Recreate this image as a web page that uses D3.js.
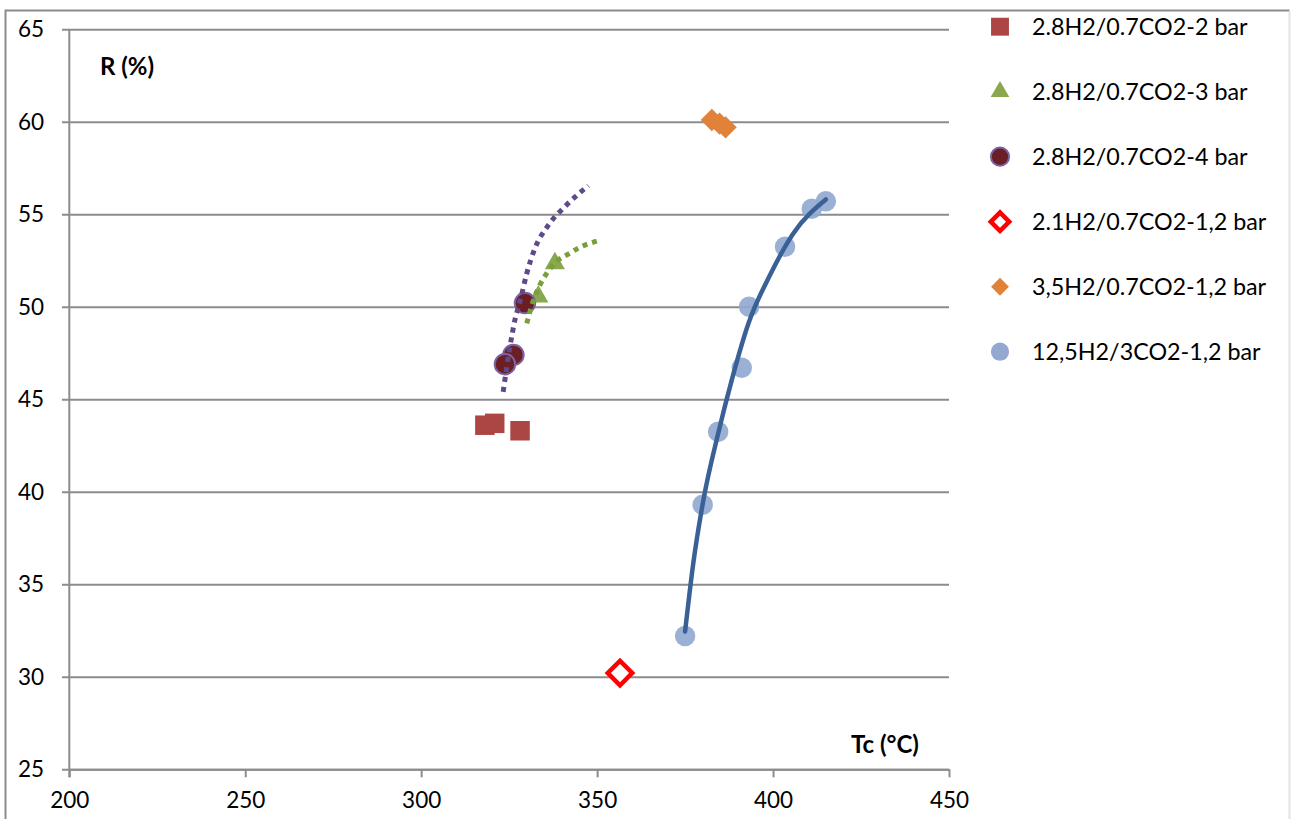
<!DOCTYPE html>
<html>
<head>
<meta charset="utf-8">
<script src="https://cdn.jsdelivr.net/npm/d3@7"></script>
<style>
  body { margin: 0; background: #fff; }
  text { font-family: Lato, "Open Sans", sans-serif; }
</style>
</head>
<body>
<div id="chart"></div>
<script>
// values (Tc in °C, R in %)
const xTicks = [200, 250, 300, 350, 400, 450];
const yTicks = [25, 30, 35, 40, 45, 50, 55, 60, 65];

const bar2 = [[318.1, 43.6], [320.9, 43.7], [328.1, 43.3]];
const bar3 = [[338.0, 52.35], [333.3, 50.55]];
const bar4 = [[329.5, 50.2], [326.2, 47.4], [323.8, 46.9]];
const h21 = [[356.5, 30.2]];
const h35 = [[382.6, 60.1], [384.8, 59.9], [386.5, 59.7]];
const h125 = [[375.0, 32.2], [380.0, 39.3], [384.4, 43.25], [391.1, 46.7],
              [393.2, 50.0], [403.4, 53.25], [411.0, 55.3], [415.0, 55.7]];

// trendlines
const trend3 = [[330.0, 49.1], [331.8, 50.3], [333.8, 51.2], [336.0, 51.9],
                [338.5, 52.45], [341.8, 52.85], [345.5, 53.25], [350.0, 53.55]];
const trend4 = [[323.3, 45.4], [325.2, 47.8], [326.65, 49.3], [328.1, 50.3],
                [330.0, 51.8], [332.3, 53.15], [336.1, 54.4], [341.3, 55.5], [347.5, 56.55]];
const trend125 = [[375.0, 32.45], [377.3, 36.1], [380.2, 39.55], [384.4, 43.15],
                  [388.2, 46.0], [393.0, 49.1], [399.1, 51.7], [405.7, 53.95], [415.0, 55.8]];

const legendLabels = ['2.8H2/0.7CO2-2 bar', '2.8H2/0.7CO2-3 bar', '2.8H2/0.7CO2-4 bar',
                      '2.1H2/0.7CO2-1,2 bar', '3,5H2/0.7CO2-1,2 bar', '12,5H2/3CO2-1,2 bar'];

const width = 1291, height = 819;
const mLeft = 69.3, mRight = 949, mTop = 29.3, mBottom = 769.3;

const svg = d3.select('#chart')
    .append('svg')
        .attr('width', width)
        .attr('height', height);

// chart frame
svg.append('path')
    .attr('d', `M5.5,${height} V10.5 H1289.5`)
    .attr('fill', 'none')
    .attr('stroke', '#8c8c8c')
    .attr('stroke-width', 2);
svg.append('line')
    .attr('x1', 1289.5).attr('x2', 1289.5).attr('y1', 11.5).attr('y2', height)
    .attr('stroke', '#e2e2e2').attr('stroke-width', 2);

const x = d3.scaleLinear().domain([200, 450]).range([mLeft, mRight]);
const y = d3.scaleLinear().domain([25, 65]).range([mBottom, mTop]);

// horizontal gridlines + y labels
const yAxis = svg.append('g')
    .attr('transform', `translate(62, 0)`)
    .call(d3.axisLeft(y).tickValues(yTicks).tickSize(-(mRight - 62)).tickPadding(18));
yAxis.select('.domain').remove();
yAxis.selectAll('line').attr('stroke', '#8c8c8c').attr('stroke-width', 2);
yAxis.selectAll('text').attr('font-size', 22.5).attr('fill', '#000');

// x axis
const xAxis = svg.append('g')
    .attr('transform', `translate(0, ${mBottom})`)
    .call(d3.axisBottom(x).tickValues(xTicks).tickSize(8).tickSizeOuter(0).tickPadding(15));
xAxis.select('.domain').attr('stroke', '#8c8c8c').attr('stroke-width', 2);
xAxis.selectAll('line').attr('stroke', '#8c8c8c').attr('stroke-width', 2);
xAxis.selectAll('text').attr('font-size', 22.5).attr('fill', '#000');

// y axis line
svg.append('line')
    .attr('x1', mLeft).attr('x2', mLeft).attr('y1', mTop).attr('y2', mBottom + 8)
    .attr('stroke', '#8c8c8c').attr('stroke-width', 2);

// axis titles
svg.append('text')
    .attr('x', 100).attr('y', 75)
    .attr('font-size', 24).attr('font-weight', 'bold')
    .text('R (%)');
svg.append('text')
    .attr('x', 851).attr('y', 753)
    .attr('font-size', 24).attr('font-weight', 'bold')
    .text('Tc (°C)');

const line = d3.line()
    .x(d => x(d[0]))
    .y(d => y(d[1]))
    .curve(d3.curveMonotoneX);

const sq = d3.symbol(d3.symbolSquare, 380)();
const tri = d3.symbol(d3.symbolTriangle, 175)();
const circ = d3.symbol(d3.symbolCircle, 330)();
const dia = d3.symbol(d3.symbolSquare, 250)();
const diaHollow = d3.symbol(d3.symbolSquare, 300)();

const series = [
    { data: bar2, path: sq, rot: 0, fill: '#ab4644', stroke: 'none', sw: 0 },
    { data: bar3, path: tri, rot: 0, fill: '#8aa84e', stroke: 'none', sw: 0 },
    { data: bar4, path: circ, rot: 0, fill: '#6b1f25', stroke: '#7d62a3', sw: 2 },
    { data: h21, path: diaHollow, rot: 45, fill: '#fff', stroke: '#ff0000', sw: 4.5 },
    { data: h35, path: dia, rot: 45, fill: '#e0823a', stroke: 'none', sw: 0 },
    { data: h125, path: circ, rot: 0, fill: '#93a9d1', stroke: 'none', sw: 0 }
];

const drawMarks = (s) => {
    svg.append('g').selectAll('path')
        .data(s.data)
        .enter()
        .append('path')
            .attr('d', s.path)
            .attr('transform', d => `translate(${x(d[0])},${y(d[1])}) rotate(${s.rot})`)
            .attr('fill', s.fill)
            .attr('fill-opacity', s.data === h125 ? 0.92 : 1)
            .attr('stroke', s.stroke)
            .attr('stroke-width', s.sw);
};

series.forEach(drawMarks);

// trendlines on top of markers
svg.append('path')
    .attr('d', line(trend125))
    .attr('fill', 'none').attr('stroke', '#3a6196').attr('stroke-width', 4.5)
    .attr('stroke-linecap', 'round');
svg.append('path')
    .attr('d', line(trend4))
    .attr('fill', 'none').attr('stroke', '#5f4a89').attr('stroke-width', 5)
    .attr('stroke-dasharray', '5,5');
svg.append('path')
    .attr('d', line(trend3))
    .attr('fill', 'none').attr('stroke', '#77a03c').attr('stroke-width', 5)
    .attr('stroke-dasharray', '5,5');

// legend
const legend = svg.append('g');
const legendY = d3.scaleLinear().domain([0, 5]).range([26.7, 351.7]);
const legendSyms = [
    d3.symbol(d3.symbolSquare, 320)(),
    d3.symbol(d3.symbolTriangle, 150)(),
    d3.symbol(d3.symbolCircle, 260)(),
    d3.symbol(d3.symbolSquare, 170)(),
    d3.symbol(d3.symbolSquare, 160)(),
    d3.symbol(d3.symbolCircle, 260)()
];
legendLabels.forEach((label, i) => {
    const s = series[i];
    legend.append('path')
        .attr('d', legendSyms[i])
        .attr('transform', `translate(1000,${legendY(i)}) rotate(${s.rot})`)
        .attr('fill', s.fill)
        .attr('stroke', s.stroke)
        .attr('stroke-width', s.sw);
    legend.append('text')
        .attr('x', 1032).attr('y', legendY(i))
        .attr('dy', '0.36em')
        .attr('font-size', 23.3)
        .text(label);
});
</script>
</body>
</html>
